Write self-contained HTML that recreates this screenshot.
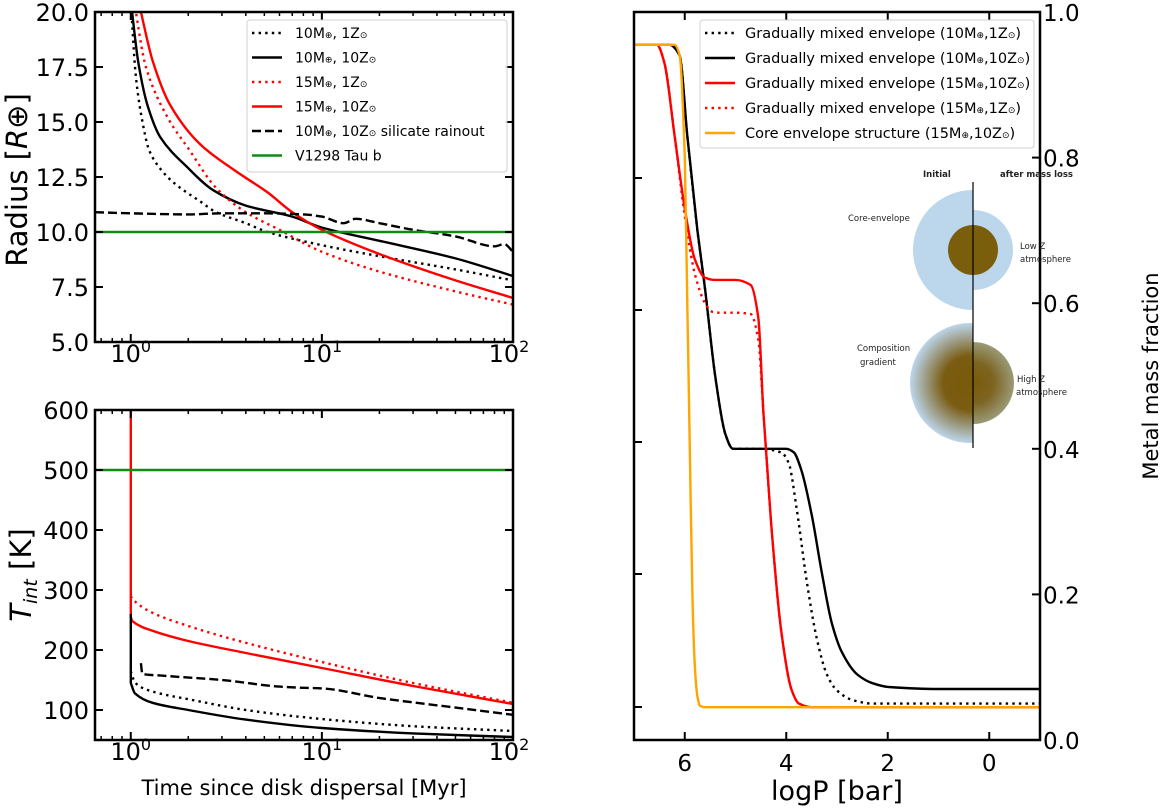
<!DOCTYPE html>
<html><head><meta charset="utf-8"><style>
html,body{margin:0;padding:0;background:#fff;}
svg{display:block;font-family:"DejaVu Sans","Liberation Sans",sans-serif;}
</style></head><body>
<svg id="fig" width="1160" height="810" viewBox="0 0 1160 810" xmlns="http://www.w3.org/2000/svg">
<defs>
<radialGradient id="grad" cx="50%" cy="50%" r="50%">
<stop offset="0" stop-color="#7a5a0a"/><stop offset="0.45" stop-color="#7a5c12"/><stop offset="1" stop-color="#bcd6ec"/>
</radialGradient>
<radialGradient id="grad2" cx="50%" cy="50%" r="50%">
<stop offset="0" stop-color="#7a5a0a"/><stop offset="0.5" stop-color="#7d6420"/><stop offset="1" stop-color="#9a9a78"/>
</radialGradient>
<clipPath id="clipL"><rect x="0" y="0" width="973" height="810"/></clipPath>
<clipPath id="clipR"><rect x="973" y="0" width="200" height="810"/></clipPath>
<clipPath id="cTop"><rect x="95" y="12" width="418" height="330"/></clipPath>
<clipPath id="cBot"><rect x="95" y="410" width="418" height="330"/></clipPath>
<clipPath id="cRight"><rect x="634" y="12" width="406" height="728"/></clipPath>
</defs>
<g id="layer"></g>
</svg>
<script>
// ---------- data: top-left (Radius vs time) ----------
const rT_dotBlack = [1.0,1.06,1.13,1.25,1.45,1.7,2.3,2.8,4,5.2,10,20,50,100];
const rV_dotBlack = [20.5,17.2,15.4,13.7,12.8,12.2,11.4,10.9,10.4,10.0,9.4,8.9,8.3,7.8];
const rT_solBlack = [1.0,1.1,1.23,1.43,2,2.7,4,7,10,20,50,100];
const rV_solBlack = [20.5,17.6,15.7,14.3,12.9,11.9,11.2,10.7,10.2,9.6,8.8,8.0];
const rT_dotRed = [1.04,1.2,1.56,2,2.8,4,6,10,20,50,100];
const rV_dotRed = [20.5,17.5,15.2,13.8,12.0,10.9,10.1,9.1,8.2,7.3,6.7];
const rT_solRed = [1.11,1.3,1.6,2.3,3.5,5.2,7,10,20,50,100];
const rV_solRed = [20.3,17.8,15.8,14.0,12.8,11.8,10.9,10.1,9.0,7.8,7.0];
const rT_dash = [0.65,1,2,3,5,8,10,13,15,20,30,50,80,90,100];
const rV_dash = [10.9,10.85,10.8,10.85,10.85,10.8,10.7,10.4,10.6,10.4,10.1,9.8,9.35,9.45,9.1];
const rObs = 10;
// ---------- data: bottom-left (Tint vs time) ----------
const tT_solRed = [1.0,1.0,1.02,1.3,2,4,10,30,100];
const tV_solRed = [600,255,248,232,215,195,170,140,110];
const tT_dotRed = [1.0,1.02,1.3,2,4,10,30,100];
const tV_dotRed = [290,285,262,240,212,180,145,112];
const tT_solBlack = [1.0,1.0,1.05,1.3,2,4,10,30,100];
const tV_solBlack = [260,145,128,112,100,84,70,61,55];
const tT_dotBlack = [1.0,1.02,1.1,1.4,2,4,10,30,100];
const tV_dotBlack = [165,155,140,128,118,100,85,73,65];
const tT_dash = [1.13,1.15,1.5,3,6,8,10,20,50,100];
const tV_dash = [178,160,157,150,139,137,136,120,104,92];
const tObs = 500;
// ---------- data: right (metal mass fraction vs logP) ----------
const pX_solBlack = [7,6.3,6.1,5.95,5.75,5.6,5.4,5.2,5.05,4.5,4.0,3.85,3.7,3.5,3.3,3.1,2.9,2.6,2.3,2.0,1.0,-1];
const pY_solBlack = [0.955,0.955,0.94,0.83,0.7,0.62,0.5,0.42,0.40,0.40,0.40,0.395,0.37,0.31,0.23,0.16,0.12,0.09,0.078,0.073,0.07,0.07];
const pX_dotBlack = [7,6.3,6.1,5.95,5.75,5.6,5.4,5.2,5.05,4.5,4.1,3.95,3.8,3.6,3.4,3.2,3.0,2.7,2.3,1.5,-1];
const pY_dotBlack = [0.955,0.955,0.94,0.83,0.7,0.62,0.5,0.42,0.40,0.40,0.395,0.38,0.32,0.22,0.14,0.09,0.068,0.055,0.05,0.05,0.05];
const pX_solRed = [7,6.55,6.4,6.2,6.0,5.8,5.6,5.4,5.0,4.7,4.55,4.45,4.3,4.1,3.9,3.75,3.5,-1];
const pY_solRed = [0.955,0.955,0.93,0.83,0.73,0.66,0.635,0.632,0.632,0.625,0.58,0.45,0.3,0.15,0.07,0.05,0.045,0.045];
const pX_dotRed = [7,6.55,6.4,6.2,6.0,5.8,5.6,5.45,5.3,5.0,4.7,4.55,4.45,4.3,4.1,3.9,3.75,3.5,-1];
const pY_dotRed = [0.955,0.955,0.93,0.83,0.72,0.64,0.6,0.588,0.587,0.587,0.585,0.55,0.45,0.3,0.15,0.07,0.05,0.045,0.045];
const pX_orange = [7,6.2,6.1,6.0,5.95,5.9,5.85,5.8,5.75,5.7,5.6,-1];
const pY_orange = [0.955,0.955,0.94,0.8,0.6,0.4,0.2,0.1,0.06,0.047,0.045,0.045];

const NS="http://www.w3.org/2000/svg";
const layer=document.getElementById('layer');
function mk(tag,attrs,parent){const e=document.createElementNS(NS,tag);for(const k in attrs)e.setAttribute(k,attrs[k]);(parent||layer).appendChild(e);return e;}
const L={x0:95,x1:513,tmin:Math.log10(0.65),tmax:2};
const xT=t=>L.x0+(Math.log10(t)-L.tmin)/(L.tmax-L.tmin)*(L.x1-L.x0);
const yR=v=>342-(v-5)/15*330;
const yTi=v=>740-(v-50)/550*330;
const xP=p=>634+(7-p)/8*406;
const yM=f=>740-f*728;
function monoPath(pts){
  const n=pts.length;
  const d=[],vert=[];
  for(let i=0;i<n-1;i++){const dx=pts[i+1][0]-pts[i][0];vert[i]=Math.abs(dx)<0.5;d[i]=vert[i]?0:(pts[i+1][1]-pts[i][1])/dx;}
  const m=[];
  for(let i=0;i<n;i++){
    const a=(i>0&&!vert[i-1])?d[i-1]:null, b=(i<n-1&&!vert[i])?d[i]:null;
    if(a===null&&b===null)m[i]=0;
    else if(a===null)m[i]=b;
    else if(b===null)m[i]=a;
    else if(a*b<=0)m[i]=0;
    else m[i]=2*a*b/(a+b);
  }
  let s='M'+pts[0][0].toFixed(1)+','+pts[0][1].toFixed(1);
  for(let i=0;i<n-1;i++){
    const p1=pts[i],p2=pts[i+1];
    if(vert[i]){s+='L'+p2[0].toFixed(1)+','+p2[1].toFixed(1);continue;}
    const h=(p2[0]-p1[0])/3;
    s+='C'+(p1[0]+h).toFixed(1)+','+(p1[1]+m[i]*h).toFixed(1)+' '+(p2[0]-h).toFixed(1)+','+(p2[1]-m[i+1]*h).toFixed(1)+' '+p2[0].toFixed(1)+','+p2[1].toFixed(1);
  }
  return s;
}
function series(xs,ys,fx,fy,style,clip,name){
  const pts=xs.map((x,i)=>[fx(x),fy(ys[i])]);
  const p=mk('path',Object.assign({d:monoPath(pts),fill:'none','clip-path':'url(#'+clip+')','stroke-width':2.4,'stroke-linejoin':'round'},style));
  
  
  return p;
}
const DOT={'stroke-dasharray':'2.4,4.2'};
const DASH={'stroke-dasharray':'9,4'};
series(rT_dotBlack,rV_dotBlack,xT,yR,Object.assign({stroke:'#000'},DOT),'cTop','radius-10me-1z');
series(rT_solBlack,rV_solBlack,xT,yR,{stroke:'#000'},'cTop','radius-10me-10z');
series(rT_dotRed,rV_dotRed,xT,yR,Object.assign({stroke:'#f00'},DOT),'cTop','radius-15me-1z');
series(rT_solRed,rV_solRed,xT,yR,{stroke:'#f00'},'cTop','radius-15me-10z');
series(rT_dash,rV_dash,xT,yR,Object.assign({stroke:'#000'},DASH),'cTop','radius-silicate-rainout');
let g1=mk('line',{x1:95,x2:513,y1:yR(rObs),y2:yR(rObs),stroke:'#138a13','stroke-width':2.4});

series(tT_dotRed,tV_dotRed,xT,yTi,Object.assign({stroke:'#f00'},DOT),'cBot','tint-15me-1z');
series(tT_solRed,tV_solRed,xT,yTi,{stroke:'#f00'},'cBot','tint-15me-10z');
series(tT_dotBlack,tV_dotBlack,xT,yTi,Object.assign({stroke:'#000'},DOT),'cBot','tint-10me-1z');
series(tT_solBlack,tV_solBlack,xT,yTi,{stroke:'#000'},'cBot','tint-10me-10z');
series(tT_dash,tV_dash,xT,yTi,Object.assign({stroke:'#000'},DASH),'cBot','tint-silicate-rainout');
let g2=mk('line',{x1:95,x2:513,y1:yTi(tObs),y2:yTi(tObs),stroke:'#138a13','stroke-width':2.4});

series(pX_solBlack,pY_solBlack,xP,yM,{stroke:'#000'},'cRight','gm-10me-10z');
series(pX_dotBlack,pY_dotBlack,xP,yM,Object.assign({stroke:'#000'},DOT),'cRight','gm-10me-1z');
series(pX_dotRed,pY_dotRed,xP,yM,Object.assign({stroke:'#f00'},DOT),'cRight','gm-15me-1z');
series(pX_solRed,pY_solRed,xP,yM,{stroke:'#f00'},'cRight','gm-15me-10z');
series(pX_orange,pY_orange,xP,yM,{stroke:'#ffa500'},'cRight','core-envelope-15me-10z');

function frame(x,y,w,h,name){const r=mk('rect',{x:x,y:y,width:w,height:h,fill:'none',stroke:'#000','stroke-width':2.5});}
frame(95,12,418,330,'radius-plot-frame');
frame(95,410,418,330,'tint-plot-frame');
frame(634,12,406,728,'metal-plot-frame');
function text(x,y,s,size,anchor,name,extra){const t=mk('text',Object.assign({x:x,y:y,'font-size':size,'text-anchor':anchor||'start'},extra||{}));t.innerHTML=s;return t;}
function tick(x1,y1,x2,y2,w){mk('line',{x1,y1,x2,y2,stroke:'#000','stroke-width':w||1.5});}
const minorT=[0.7,0.8,0.9,2,3,4,5,6,7,8,9,20,30,40,50,60,70,80,90];
const majorT=[1,10,100];
[[12,342],[410,740]].forEach(([top,bot])=>{
  minorT.forEach(t=>{const x=xT(t);tick(x,bot,x,bot-4);tick(x,top,x,top+4);});
  majorT.forEach(t=>{const x=xT(t);tick(x,bot,x,bot-8,2);tick(x,top,x,top+8,2);});
});
const majorExp=['0','1','2'];
[362,760].forEach(yy=>majorT.forEach((t,i)=>{
  const x=xT(t);
  text(x+(i==2?-4:0),yy,'10<tspan dy="-10" font-size="16">'+majorExp[i]+'</tspan>',24,'middle','x-tick-label');
}));
const rTicks=[5,7.5,10,12.5,15,17.5,20];
const rTickLbl=['5.0','7.5','10.0','12.5','15.0','17.5','20.0'];
rTicks.forEach((v,i)=>{const y=yR(v);tick(95,y,103,y,2);tick(513,y,505,y,2);text(89,y+9,rTickLbl[i],24,'end','radius-tick-label');});
const tTicks=[100,200,300,400,500,600];
tTicks.forEach(v=>{const y=yTi(v);tick(95,y,103,y,2);tick(513,y,505,y,2);text(89,y+9,String(v),24,'end','tint-tick-label');});
const pTicks=[6,4,2,0];
pTicks.forEach(p=>{const x=xP(p);tick(x,740,x,732,2);tick(x,12,x,20,2);text(x,771,String(p),23,'middle','logp-tick-label');});
const fTicks=[0,0.2,0.4,0.6,0.8,1.0];
fTicks.forEach(f=>{const y=yM(f);tick(1040,y,1032,y,2);text(1043,y+9,f.toFixed(1),23,'start','fraction-tick-label');});
[178,310,442,574,707].forEach(y=>tick(634,y,642,y,2));
text(27,180,'Radius [<tspan font-style="italic">R</tspan><tspan>⊕</tspan>]',29,'middle','radius-axis-title',{transform:'rotate(-90 27 180)'});
text(31,575,'<tspan font-style="italic">T<tspan font-size="19" dy="6">int</tspan></tspan><tspan dy="-6"> [K]</tspan>',29,'middle','tint-axis-title',{transform:'rotate(-90 31 575)'});
text(304,795,'Time since disk dispersal [Myr]',21,'middle','time-axis-title');
text(837,800,'logP [bar]',27,'middle','logp-axis-title');
text(1158,376,'Metal mass fraction',21,'middle','metal-fraction-axis-title',{transform:'rotate(-90 1158 376)'});
function legend(x,y,w,h,items,lx,tx,dy,fs,name){
  const g=mk('g',{});
  mk('rect',{x,y,width:w,height:h,rx:3,fill:'#fff',stroke:'#ccc','stroke-width':1,opacity:0.9},g);
  items.forEach((it,i)=>{
    const yy=y+13+i*dy;
    mk('line',Object.assign({x1:lx,x2:lx+30,y1:yy,y2:yy,stroke:it[1],'stroke-width':2.4},it[2]||{}),g);
    const t=mk('text',{x:tx,y:yy+5,'font-size':fs},g);t.innerHTML=it[0];
    
  });
}
const M='M<tspan font-size="9">⊕</tspan>', Z='Z<tspan font-size="9">⊙</tspan>';
legend(247,20,260,152,[
 ['10'+M+', 1'+Z,'#000',DOT],['10'+M+', 10'+Z,'#000'],['15'+M+', 1'+Z,'#f00',DOT],
 ['15'+M+', 10'+Z,'#f00'],['10'+M+', 10'+Z+' silicate rainout','#000',DASH],['V1298 Tau b','#138a13']
],252,295,24.5,14,'radius-legend');
legend(700,20,334,128,[
 ['Gradually mixed envelope (10'+M+',1'+Z+')','#000',DOT],['Gradually mixed envelope (10'+M+',10'+Z+')','#000'],
 ['Gradually mixed envelope (15'+M+',10'+Z+')','#f00'],['Gradually mixed envelope (15'+M+',1'+Z+')','#f00',DOT],
 ['Core envelope structure (15'+M+',10'+Z+')','#ffa500']
],705,745,25,14.5,'metal-legend');
const ig=mk('g',{});
mk('circle',{cx:973,cy:250,r:60,fill:'#bcd6ec','clip-path':'url(#clipL)'},ig);
mk('circle',{cx:973,cy:250,r:40,fill:'#bcd6ec','clip-path':'url(#clipR)'},ig);
mk('circle',{cx:973,cy:250,r:25,fill:'#7a5e0c'},ig);
mk('circle',{cx:970,cy:383,r:60,fill:'url(#grad)','clip-path':'url(#clipL)'},ig);
mk('circle',{cx:973,cy:383,r:41,fill:'url(#grad2)','clip-path':'url(#clipR)'},ig);
mk('line',{x1:973,x2:973,y1:182,y2:448,stroke:'#000','stroke-width':1.2},ig);
const it=(x,y,s,b)=>{const t=mk('text',{x,y,'font-size':8.5,'font-weight':b?'bold':'normal',fill:'#222'},ig);t.textContent=s;};
it(923,177,'Initial',1);it(1000,177,'after mass loss',1);
it(848,221,'Core-envelope');it(1020,249,'Low Z');it(1020,262,'atmosphere');
it(857,351,'Composition');it(860,365,'gradient');it(1017,382,'High Z');it(1016,395,'atmosphere');
</script>
</body></html>
